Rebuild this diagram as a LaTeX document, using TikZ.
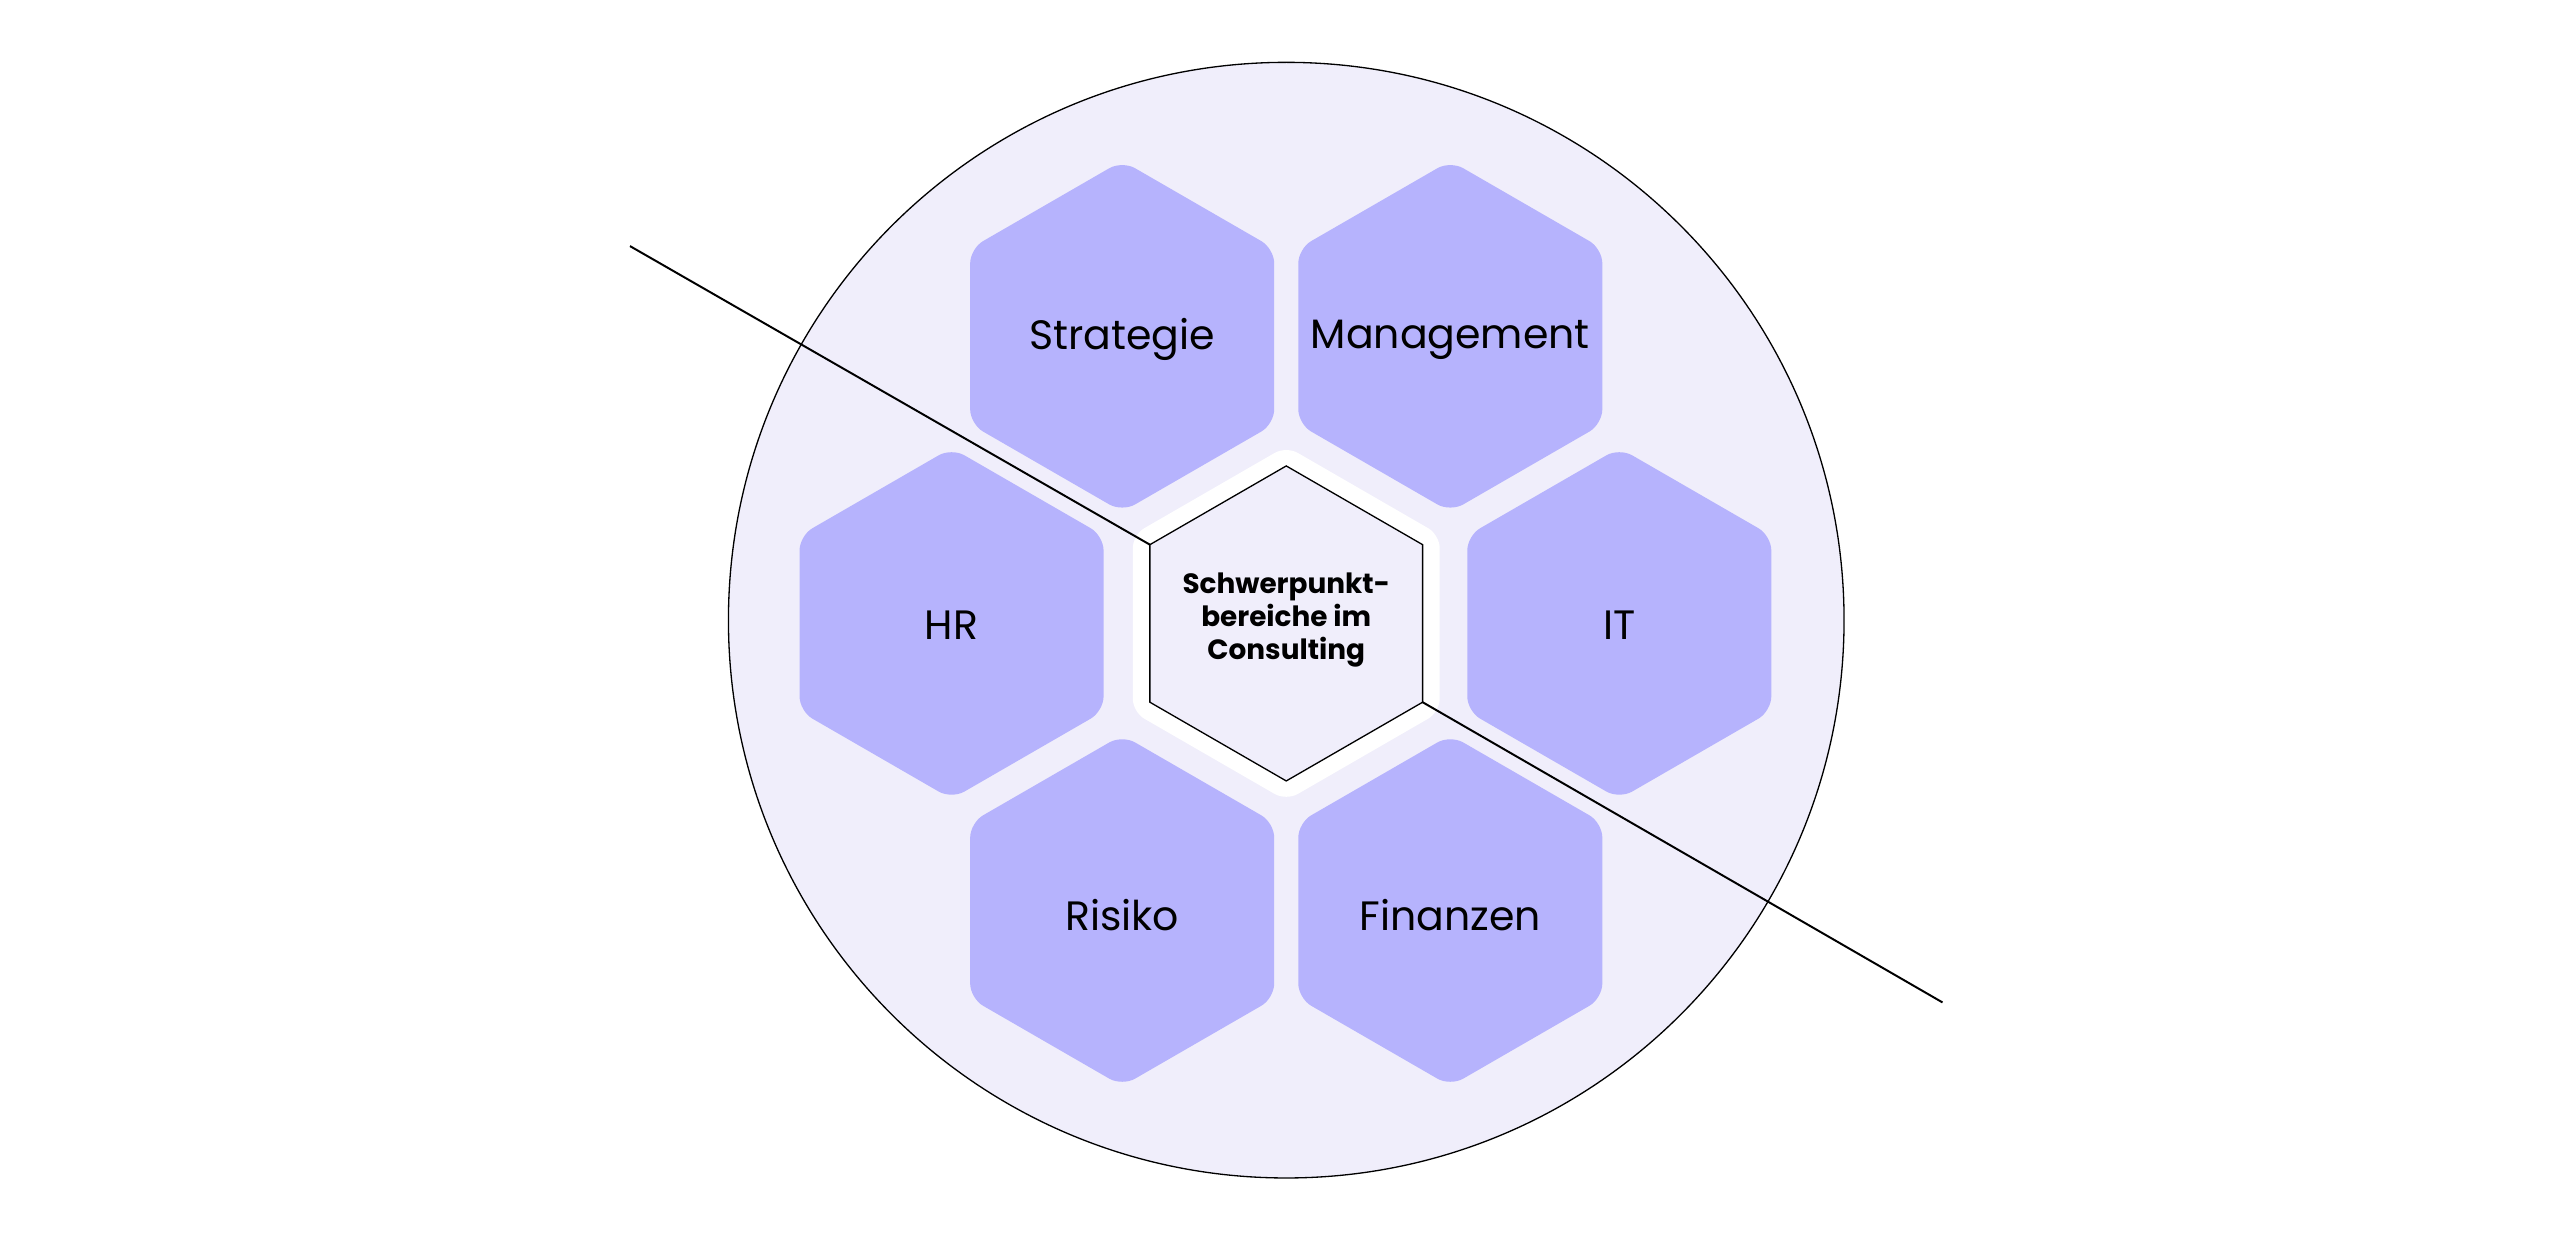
\documentclass[tikz,border=0pt]{standalone}
\usepackage{fontspec}
\setmainfont{Poppins}
\definecolor{hexfill}{HTML}{B6B3FD}
\definecolor{bgfill}{HTML}{F0EEFB}
\newcommand{\myhex}[4]{\path[#4] (#1+0,#2-#3) -- (#1+0.866*#3,#2-0.5*#3) -- (#1+0.866*#3,#2+0.5*#3) -- (#1+0,#2+#3) -- (#1-0.866*#3,#2+0.5*#3) -- (#1-0.866*#3,#2-0.5*#3) -- cycle;}
\tikzset{outer/.style={fill=hexfill,rounded corners=9pt},
lbl/.style={font=\fontsize{25}{30}\selectfont,text=black}}
\begin{document}
\begin{tikzpicture}[x=1pt,y=-1pt]
\useasboundingbox (0,0) rectangle (1561,752);
\draw[fill=bgfill,line width=0.8pt] (784,378) circle (340);
\myhex{684}{205}{107}{outer}
\myhex{884}{205}{107}{outer}
\myhex{580}{380}{107}{outer}
\myhex{987}{380}{107}{outer}
\myhex{684}{555}{107}{outer}
\myhex{884}{555}{107}{outer}
\myhex{784}{380}{108}{fill=white,rounded corners=8pt}
\myhex{784}{380}{96}{fill=bgfill,draw=black,line width=0.8pt}
\node[lbl] (s) at (684,207) {Strategie};
\node[lbl] (m) at (884,207) {Management};
\node[lbl] (h) at (580,381) {HR};
\node[lbl] (i) at (987,381) {IT};
\node[lbl] (r) at (684,558) {Risiko};
\node[lbl] (f) at (884,558) {Finanzen};
\node[font=\fontsize{17}{20}\selectfont\bfseries,align=center] (c) at (784,378) {Schwerpunkt-\\bereiche im\\Consulting};
\coordinate (a1) at (384,150);
\coordinate (a2) at (700.9,332);
\coordinate (b1) at (867.1,428);
\coordinate (b2) at (1184,611);
\draw[line width=1.2pt] (a1) -- (a2);
\draw[line width=1.2pt] (b1) -- (b2);
\end{tikzpicture}
\end{document}
